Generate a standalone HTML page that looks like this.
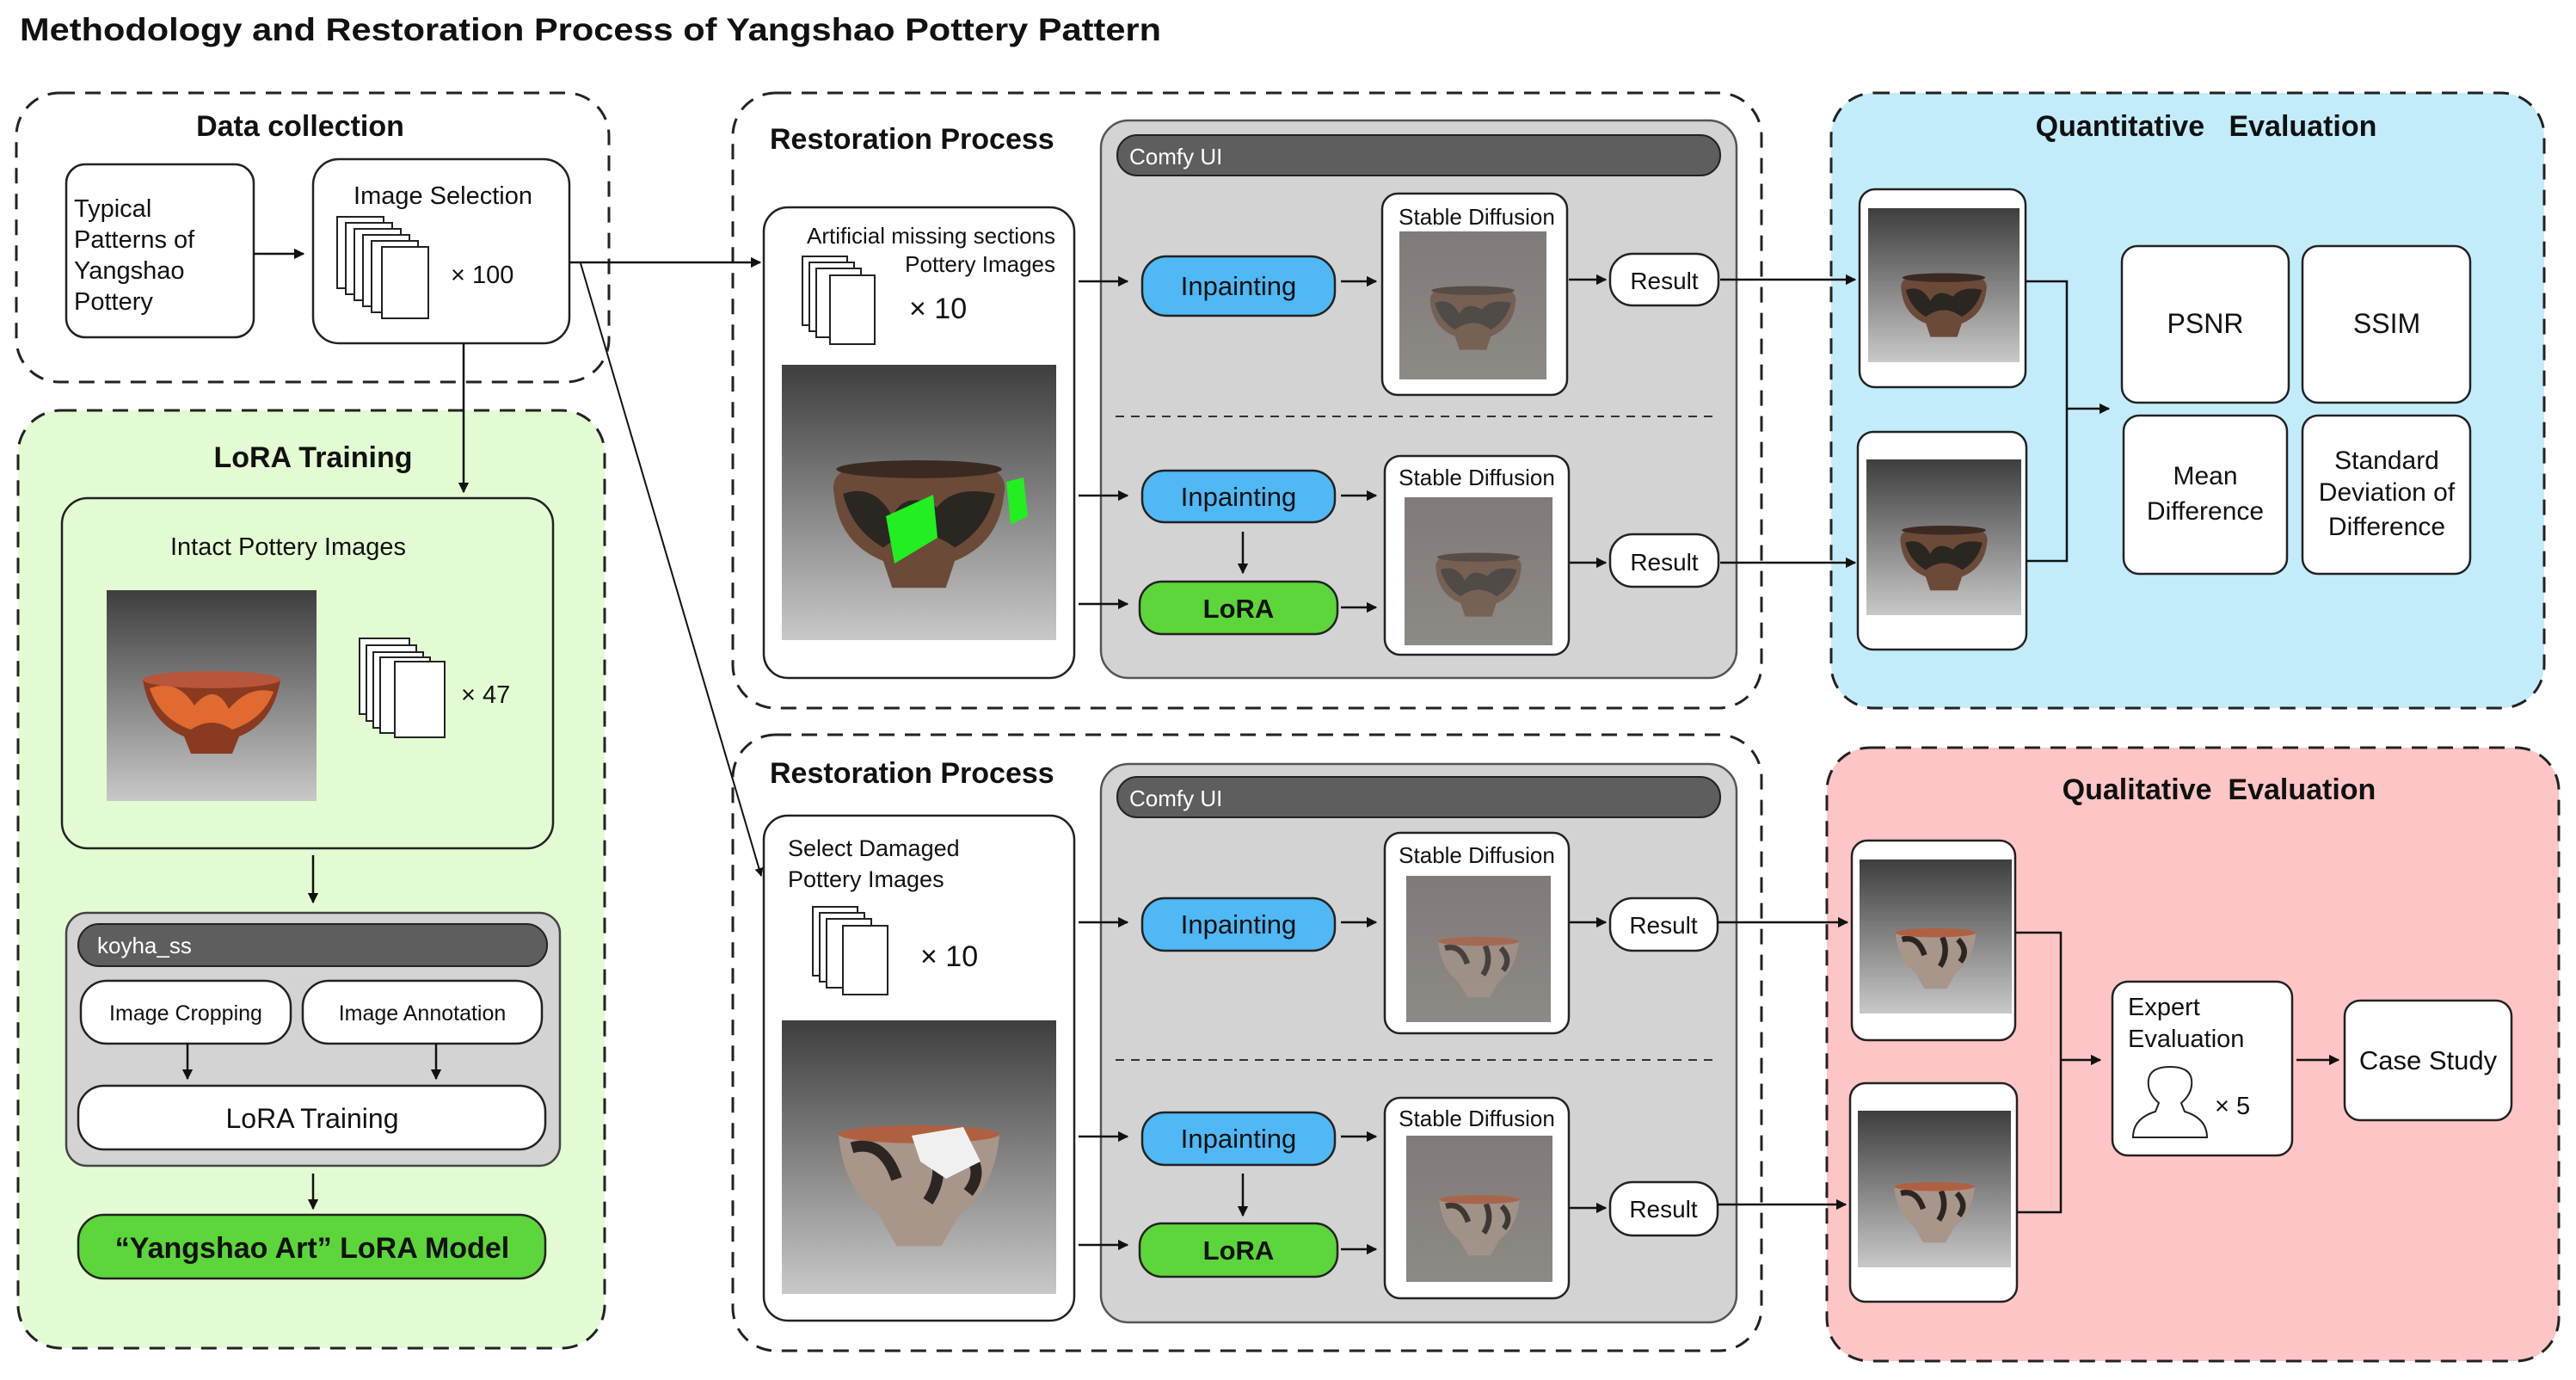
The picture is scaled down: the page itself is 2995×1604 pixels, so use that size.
<!DOCTYPE html>
<html><head><meta charset="utf-8"><style>
html,body{margin:0;padding:0;background:#fff;}
svg{display:block;}
text{font-family:"Liberation Sans",sans-serif;fill:#111;}
.t{font-weight:bold;font-size:34px;}
.b{font-size:29px;}
</style></head><body>
<svg width="2995" height="1604" viewBox="0 0 2995 1604" xmlns="http://www.w3.org/2000/svg">
<defs>
<marker id="a" viewBox="0 0 10 10" refX="9" refY="5" markerWidth="5" markerHeight="5" orient="auto"><path d="M0,0L10,5L0,10z" fill="#111"/></marker>
<linearGradient id="bg" x1="0" y1="0" x2="0" y2="1"><stop offset="0" stop-color="#3e3e3e"/><stop offset="1" stop-color="#c8c8c8"/></linearGradient>
<linearGradient id="nz" x1="0" y1="0" x2="0" y2="1"><stop offset="0" stop-color="#807a78"/><stop offset="1" stop-color="#8d8a86"/></linearGradient>
<symbol id="pot1" viewBox="0 0 100 100"><path d="M12,40 Q10,30 22,28 L78,28 Q90,30 88,40 Q86,62 66,70 L62,82 L38,82 L34,70 Q14,62 12,40z" fill="#6b4a38"/><path d="M16,40 Q30,35 38,50 Q44,38 58,46 Q66,36 84,40 Q80,56 66,64 Q50,52 34,64 Q20,56 16,40z" fill="#2a2622"/><ellipse cx="50" cy="29" rx="37" ry="4" fill="#3a2a22"/></symbol>
<symbol id="pot2" viewBox="0 0 100 100"><path d="M10,35 L90,35 Q86,60 66,68 L62,78 L38,78 L34,68 Q14,60 10,35z" fill="#8a3a20"/><path d="M14,40 Q30,34 40,50 Q52,36 60,52 Q72,38 86,42 Q80,58 62,64 Q50,56 38,64 Q20,58 14,40z" fill="#e06a30"/><ellipse cx="50" cy="35" rx="40" ry="5" fill="#b8553a"/></symbol>
<symbol id="pot3" viewBox="0 0 100 100"><path d="M14,34 L86,34 Q84,58 68,70 L60,84 L40,84 L32,70 Q16,58 14,34z" fill="#a8968a"/><path d="M20,40 Q34,36 40,54 M56,38 Q62,52 54,64 M70,40 Q80,50 72,60" stroke="#2c2622" stroke-width="5" fill="none"/><ellipse cx="50" cy="34" rx="36" ry="4" fill="#b06040"/></symbol>
</defs>

<text x="23" y="47" font-size="37" font-weight="bold" textLength="1327" lengthAdjust="spacingAndGlyphs">Methodology and Restoration Process of Yangshao Pottery Pattern</text>

<!-- Data collection -->
<rect x="19" y="108" width="689" height="336" rx="50" fill="#fff" stroke="#222" stroke-width="3" stroke-dasharray="18 12"/>
<text class="t" x="349" y="158" text-anchor="middle">Data collection</text>
<rect x="77" y="191" width="218" height="201" rx="22" fill="#fff" stroke="#222" stroke-width="2.5"/>
<text class="b" x="86" y="252" font-size="27">Typical</text>
<text class="b" x="86" y="288" font-size="27">Patterns of</text>
<text class="b" x="86" y="324" font-size="27">Yangshao</text>
<text class="b" x="86" y="360" font-size="27">Pottery</text>
<line x1="295" y1="295" x2="353" y2="295" stroke="#111" stroke-width="2.5" marker-end="url(#a)"/>
<rect x="364" y="185" width="298" height="214" rx="30" fill="#fff" stroke="#222" stroke-width="2.5"/>
<text class="b" x="515" y="237" text-anchor="middle" font-size="31">Image Selection</text>
<g fill="#fff" stroke="#222" stroke-width="2">
<rect x="392" y="252" width="54" height="83"/><rect x="402" y="259" width="54" height="83"/><rect x="412" y="266" width="54" height="83"/><rect x="422" y="273" width="54" height="83"/><rect x="432" y="280" width="54" height="83"/><rect x="444" y="287" width="54" height="83"/>
</g>
<text class="b" x="524" y="329" font-size="25">× 100</text>

<!-- LoRA Training -->
<rect x="21" y="477" width="682" height="1090" rx="50" fill="#e3fbd2" stroke="#222" stroke-width="3" stroke-dasharray="18 12"/>
<text class="t" x="364" y="543" text-anchor="middle">LoRA Training</text>
<rect x="72" y="579" width="571" height="407" rx="30" fill="#e3fbd2" stroke="#222" stroke-width="2.5"/>
<text class="b" x="335" y="645" text-anchor="middle" font-size="31">Intact Pottery Images</text>
<rect x="124" y="686" width="244" height="245" fill="url(#bg)"/>
<use href="#pot2" x="134" y="720" width="224" height="200"/>
<g fill="#fff" stroke="#222" stroke-width="2">
<rect x="418" y="742" width="58" height="88"/><rect x="426" y="750" width="58" height="88"/><rect x="434" y="758" width="58" height="88"/><rect x="442" y="764" width="58" height="88"/><rect x="459" y="769" width="58" height="88"/>
</g>
<text class="b" x="536" y="817" font-size="33">× 47</text>
<line x1="364" y1="994" x2="364" y2="1049" stroke="#111" stroke-width="2.5" marker-end="url(#a)"/>
<rect x="77" y="1061" width="574" height="294" rx="24" fill="#d3d3d3" stroke="#444" stroke-width="2.5"/>
<rect x="91" y="1074" width="545" height="49" rx="24" fill="#5e5e5e" stroke="#222" stroke-width="2"/>
<text x="113" y="1108" font-size="26" style="fill:#fff">koyha_ss</text>
<rect x="94" y="1140" width="244" height="73" rx="30" fill="#fff" stroke="#222" stroke-width="2.5"/>
<text x="216" y="1186" font-size="25" text-anchor="middle">Image Cropping</text>
<rect x="352" y="1140" width="278" height="73" rx="30" fill="#fff" stroke="#222" stroke-width="2.5"/>
<text x="491" y="1186" font-size="25" text-anchor="middle">Image Annotation</text>
<line x1="218" y1="1213" x2="218" y2="1254" stroke="#111" stroke-width="2.5" marker-end="url(#a)"/>
<line x1="507" y1="1213" x2="507" y2="1254" stroke="#111" stroke-width="2.5" marker-end="url(#a)"/>
<rect x="91" y="1262" width="543" height="74" rx="30" fill="#fff" stroke="#222" stroke-width="2.5"/>
<text x="363" y="1311" font-size="32" text-anchor="middle">LoRA Training</text>
<line x1="364" y1="1364" x2="364" y2="1405" stroke="#111" stroke-width="2.5" marker-end="url(#a)"/>
<rect x="91" y="1412" width="543" height="74" rx="30" fill="#5cd63a" stroke="#222" stroke-width="2.5"/>
<text x="363" y="1462" font-size="34" font-weight="bold" text-anchor="middle">“Yangshao Art” LoRA Model</text>

<!-- Restoration 1 -->
<rect x="852" y="108" width="1196" height="715" rx="50" fill="#fff" stroke="#222" stroke-width="3" stroke-dasharray="18 12"/>
<text class="t" x="895" y="173" font-size="33">Restoration Process</text>
<rect x="1280" y="140" width="739" height="648" rx="32" fill="#d3d3d3" stroke="#555" stroke-width="2.5"/>
<rect x="1299" y="157" width="701" height="47" rx="23" fill="#5e5e5e" stroke="#222" stroke-width="2"/>
<text x="1313" y="191" font-size="26" style="fill:#fff">Comfy UI</text>
<rect x="888" y="241" width="361" height="547" rx="28" fill="#fff" stroke="#222" stroke-width="2.5"/>
<text x="1227" y="283" font-size="26" text-anchor="end">Artificial missing sections</text>
<text x="1227" y="316" font-size="26" text-anchor="end">Pottery Images</text>
<g fill="#fff" stroke="#222" stroke-width="2">
<rect x="933" y="298" width="52" height="80"/><rect x="941" y="305" width="52" height="80"/><rect x="949" y="312" width="52" height="80"/><rect x="965" y="320" width="52" height="80"/>
</g>
<text x="1057" y="370" font-size="34">× 10</text>
<rect x="909" y="424" width="319" height="320" fill="url(#bg)"/>
<use href="#pot1" x="929" y="470" width="279" height="260"/>
<path d="M1030,600 L1085,575 L1090,625 L1040,655z M1170,560 L1190,555 L1195,600 L1175,610z" fill="#22ee22"/>

<g stroke="#111" stroke-width="2.5" fill="none" marker-end="url(#a)">
<line x1="1254" y1="327" x2="1311" y2="327"/><line x1="1254" y1="576" x2="1311" y2="576"/><line x1="1254" y1="702" x2="1311" y2="702"/>
<line x1="1559" y1="327" x2="1600" y2="327"/><line x1="1559" y1="576" x2="1600" y2="576"/><line x1="1559" y1="706" x2="1600" y2="706"/>
<line x1="1445" y1="618" x2="1445" y2="666"/>
<line x1="1824" y1="325" x2="1867" y2="325"/><line x1="1824" y1="654" x2="1867" y2="654"/>
</g>
<rect x="1328" y="298" width="224" height="69" rx="28" fill="#4fb8f5" stroke="#222" stroke-width="2.5"/>
<text x="1440" y="343" font-size="31" text-anchor="middle">Inpainting</text>
<line x1="1297" y1="484" x2="1991" y2="484" stroke="#333" stroke-width="2" stroke-dasharray="10 8"/>
<rect x="1328" y="547" width="224" height="60" rx="26" fill="#4fb8f5" stroke="#222" stroke-width="2.5"/>
<text x="1440" y="588" font-size="31" text-anchor="middle">Inpainting</text>
<rect x="1325" y="676" width="230" height="61" rx="26" fill="#5cd63a" stroke="#222" stroke-width="2.5"/>
<text x="1440" y="718" font-size="31" font-weight="bold" text-anchor="middle">LoRA</text>
<rect x="1607" y="225" width="215" height="234" rx="18" fill="#fff" stroke="#222" stroke-width="2.5"/>
<text x="1717" y="261" font-size="26" text-anchor="middle">Stable Diffusion</text>
<rect x="1627" y="269" width="171" height="172" fill="url(#nz)"/>
<use href="#pot1" x="1637" y="300" width="151" height="130" opacity="0.6"/>
<rect x="1872" y="295" width="126" height="60" rx="26" fill="#fff" stroke="#222" stroke-width="2.5"/>
<text x="1935" y="336" font-size="28" text-anchor="middle">Result</text>
<rect x="1610" y="530" width="214" height="231" rx="18" fill="#fff" stroke="#222" stroke-width="2.5"/>
<text x="1717" y="564" font-size="26" text-anchor="middle">Stable Diffusion</text>
<rect x="1633" y="578" width="172" height="172" fill="url(#nz)"/>
<use href="#pot1" x="1643" y="610" width="152" height="130" opacity="0.6"/>
<rect x="1872" y="621" width="126" height="61" rx="26" fill="#fff" stroke="#222" stroke-width="2.5"/>
<text x="1935" y="663" font-size="28" text-anchor="middle">Result</text>

<!-- Restoration 2 -->
<rect x="852" y="854" width="1196" height="716" rx="50" fill="#fff" stroke="#222" stroke-width="3" stroke-dasharray="18 12"/>
<text class="t" x="895" y="910" font-size="33">Restoration Process</text>
<rect x="1280" y="888" width="739" height="649" rx="32" fill="#d3d3d3" stroke="#555" stroke-width="2.5"/>
<rect x="1299" y="903" width="701" height="47" rx="23" fill="#5e5e5e" stroke="#222" stroke-width="2"/>
<text x="1313" y="937" font-size="26" style="fill:#fff">Comfy UI</text>
<rect x="888" y="948" width="361" height="587" rx="28" fill="#fff" stroke="#222" stroke-width="2.5"/>
<text x="916" y="995" font-size="27">Select Damaged</text>
<text x="916" y="1031" font-size="27">Pottery Images</text>
<g fill="#fff" stroke="#222" stroke-width="2">
<rect x="945" y="1054" width="52" height="80"/><rect x="953" y="1061" width="52" height="80"/><rect x="961" y="1068" width="52" height="80"/><rect x="980" y="1076" width="52" height="80"/>
</g>
<text x="1070" y="1123" font-size="34">× 10</text>
<rect x="909" y="1186" width="319" height="318" fill="url(#bg)"/>
<use href="#pot3" x="925" y="1230" width="287" height="260"/>
<path d="M1060,1320 L1120,1310 L1140,1350 L1100,1370 L1070,1350z" fill="#f0f0f0"/>

<g stroke="#111" stroke-width="2.5" fill="none" marker-end="url(#a)">
<line x1="1254" y1="1072" x2="1311" y2="1072"/><line x1="1254" y1="1321" x2="1311" y2="1321"/><line x1="1254" y1="1447" x2="1311" y2="1447"/>
<line x1="1559" y1="1072" x2="1600" y2="1072"/><line x1="1559" y1="1321" x2="1600" y2="1321"/><line x1="1559" y1="1452" x2="1600" y2="1452"/>
<line x1="1445" y1="1364" x2="1445" y2="1413"/>
<line x1="1824" y1="1072" x2="1867" y2="1072"/><line x1="1824" y1="1404" x2="1867" y2="1404"/>
</g>
<rect x="1328" y="1044" width="224" height="61" rx="26" fill="#4fb8f5" stroke="#222" stroke-width="2.5"/>
<text x="1440" y="1085" font-size="31" text-anchor="middle">Inpainting</text>
<line x1="1297" y1="1232" x2="1991" y2="1232" stroke="#333" stroke-width="2" stroke-dasharray="10 8"/>
<rect x="1328" y="1293" width="224" height="61" rx="26" fill="#4fb8f5" stroke="#222" stroke-width="2.5"/>
<text x="1440" y="1334" font-size="31" text-anchor="middle">Inpainting</text>
<rect x="1325" y="1422" width="230" height="62" rx="26" fill="#5cd63a" stroke="#222" stroke-width="2.5"/>
<text x="1440" y="1464" font-size="31" font-weight="bold" text-anchor="middle">LoRA</text>
<rect x="1610" y="968" width="214" height="233" rx="18" fill="#fff" stroke="#222" stroke-width="2.5"/>
<text x="1717" y="1003" font-size="26" text-anchor="middle">Stable Diffusion</text>
<rect x="1635" y="1018" width="168" height="170" fill="url(#nz)"/>
<use href="#pot3" x="1645" y="1050" width="148" height="130" opacity="0.7"/>
<rect x="1872" y="1044" width="125" height="61" rx="26" fill="#fff" stroke="#222" stroke-width="2.5"/>
<text x="1934" y="1085" font-size="28" text-anchor="middle">Result</text>
<rect x="1610" y="1276" width="214" height="233" rx="18" fill="#fff" stroke="#222" stroke-width="2.5"/>
<text x="1717" y="1309" font-size="26" text-anchor="middle">Stable Diffusion</text>
<rect x="1635" y="1320" width="170" height="170" fill="url(#nz)"/>
<use href="#pot3" x="1645" y="1350" width="150" height="130" opacity="0.8"/>
<rect x="1872" y="1374" width="125" height="62" rx="26" fill="#fff" stroke="#222" stroke-width="2.5"/>
<text x="1934" y="1415" font-size="28" text-anchor="middle">Result</text>

<!-- Quantitative -->
<rect x="2129" y="108" width="829" height="715" rx="50" fill="#c3ecfb" stroke="#222" stroke-width="3" stroke-dasharray="18 12"/>
<text class="t" x="2565" y="158" text-anchor="middle" xml:space="preserve">Quantitative   Evaluation</text>
<rect x="2162" y="220" width="193" height="230" rx="18" fill="#fff" stroke="#222" stroke-width="2.5"/>
<rect x="2172" y="242" width="176" height="179" fill="url(#bg)"/>
<use href="#pot1" x="2182" y="285" width="156" height="130"/>
<rect x="2160" y="502" width="196" height="253" rx="18" fill="#fff" stroke="#222" stroke-width="2.5"/>
<rect x="2170" y="534" width="180" height="181" fill="url(#bg)"/>
<use href="#pot1" x="2180" y="578" width="160" height="132"/>
<polyline points="2355,327 2403,327 2403,652 2356,652" fill="none" stroke="#111" stroke-width="2.5"/>
<line x1="2403" y1="475" x2="2452" y2="475" stroke="#111" stroke-width="2.5" marker-end="url(#a)"/>
<g fill="#fff" stroke="#222" stroke-width="2.5">
<rect x="2467" y="286" width="194" height="182" rx="18"/><rect x="2677" y="286" width="195" height="182" rx="18"/>
<rect x="2469" y="483" width="190" height="184" rx="18"/><rect x="2677" y="483" width="195" height="184" rx="18"/>
</g>
<text x="2564" y="387" font-size="32" text-anchor="middle">PSNR</text>
<text x="2775" y="387" font-size="32" text-anchor="middle">SSIM</text>
<text x="2564" y="563" font-size="30" text-anchor="middle">Mean</text>
<text x="2564" y="604" font-size="30" text-anchor="middle">Difference</text>
<text x="2775" y="545" font-size="30" text-anchor="middle">Standard</text>
<text x="2775" y="582" font-size="30" text-anchor="middle">Deviation of</text>
<text x="2775" y="622" font-size="30" text-anchor="middle">Difference</text>

<!-- Qualitative -->
<rect x="2124" y="869" width="851" height="713" rx="50" fill="#fdc5c5" stroke="#222" stroke-width="3" stroke-dasharray="18 12"/>
<text class="t" x="2580" y="929" text-anchor="middle" xml:space="preserve">Qualitative  Evaluation</text>
<rect x="2153" y="977" width="190" height="232" rx="18" fill="#fff" stroke="#222" stroke-width="2.5"/>
<rect x="2162" y="999" width="177" height="179" fill="url(#bg)"/>
<use href="#pot3" x="2172" y="1040" width="157" height="130"/>
<rect x="2151" y="1259" width="194" height="254" rx="18" fill="#fff" stroke="#222" stroke-width="2.5"/>
<rect x="2160" y="1291" width="178" height="182" fill="url(#bg)"/>
<use href="#pot3" x="2170" y="1335" width="158" height="130"/>
<polyline points="2343,1084 2396,1084 2396,1409 2345,1409" fill="none" stroke="#111" stroke-width="2.5"/>
<line x1="2396" y1="1232" x2="2442" y2="1232" stroke="#111" stroke-width="2.5" marker-end="url(#a)"/>
<rect x="2456" y="1141" width="209" height="202" rx="18" fill="#fff" stroke="#222" stroke-width="2.5"/>
<text x="2474" y="1180" font-size="29">Expert</text>
<text x="2474" y="1217" font-size="29">Evaluation</text>
<path d="M2500,1322 L2566,1322 Q2566,1300 2540,1292 L2536,1282 Q2550,1270 2548,1255 Q2546,1240 2523,1240 Q2500,1240 2498,1255 Q2496,1270 2510,1282 L2506,1292 Q2480,1300 2480,1322z" fill="#fff" stroke="#222" stroke-width="2"/>
<text x="2575" y="1295" font-size="29">× 5</text>
<line x1="2670" y1="1232" x2="2719" y2="1232" stroke="#111" stroke-width="2.5" marker-end="url(#a)"/>
<rect x="2726" y="1163" width="194" height="139" rx="18" fill="#fff" stroke="#222" stroke-width="2.5"/>
<text x="2823" y="1243" font-size="31" text-anchor="middle">Case Study</text>

<!-- cross-panel connectors on top -->
<g stroke="#111" stroke-width="2.5" fill="none" marker-end="url(#a)">
<line x1="2000" y1="325" x2="2157" y2="325"/><line x1="2000" y1="654" x2="2157" y2="654"/>
<line x1="1997" y1="1072" x2="2148" y2="1072"/><line x1="1997" y1="1400" x2="2146" y2="1400"/>
<line x1="662" y1="305" x2="884" y2="305"/>
<line x1="539" y1="399" x2="539" y2="572"/>
</g>
<line x1="675" y1="306" x2="885" y2="1018" stroke="#111" stroke-width="2" marker-end="url(#a)"/>
</svg>
</body></html>
